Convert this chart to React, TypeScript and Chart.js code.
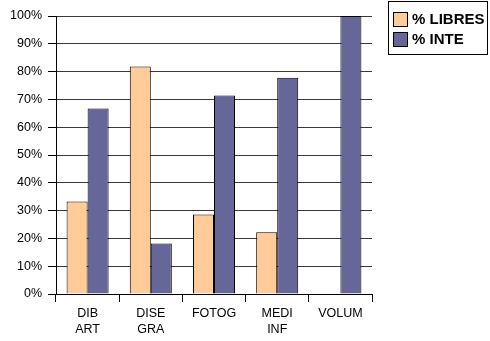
import React, { useEffect, useRef } from "react";
import { Chart, registerables } from "chart.js";

Chart.register(...registerables);

const categories: string[][] = [["DIB", "ART"], ["DISE", "GRA"], ["FOTOG"], ["MEDI", "INF"], ["VOLUM"]];
const seriesNames = ["% LIBRES", "% INTE"];
const libres = [33.3, 81.8, 28.6, 22.2, 0];
const inte = [66.7, 18.2, 71.4, 77.8, 100];
const colors = ["#FFCC99", "#666699"];

const FONT = "'Liberation Sans', Arial, Helvetica, sans-serif";

const legendPlugin = {
  id: "boxLegend",
  afterDraw(chart: any) {
    const ctx = chart.ctx;
    ctx.save();
    ctx.strokeStyle = "#000";
    ctx.lineWidth = 1;
    ctx.strokeRect(388.5, 1.5, 99, 53);
    chart.data.datasets.forEach((ds: any, i: number) => {
      const cy = 19.5 + i * 20;
      ctx.fillStyle = ds.backgroundColor;
      ctx.fillRect(393, cy - 7.5, 15, 15);
      ctx.strokeStyle = "#000";
      ctx.strokeRect(393.5, cy - 7, 14, 14);
      ctx.fillStyle = "#000";
      ctx.font = "bold 15px " + FONT;
      ctx.textBaseline = "middle";
      ctx.textAlign = "left";
      ctx.fillText(ds.label, 412, cy + 0.5);
    });
    ctx.restore();
  },
};

export default function App() {
  const ref = useRef<HTMLCanvasElement | null>(null);
  useEffect(() => {
    document.body.style.margin = "0";
    const chart = new Chart(ref.current as HTMLCanvasElement, {
      type: "bar",
      data: {
        labels: categories,
        datasets: [
          { label: seriesNames[0], data: libres, backgroundColor: colors[0], borderColor: "#000", borderWidth: 1 },
          { label: seriesNames[1], data: inte, backgroundColor: colors[1], borderColor: "#000", borderWidth: 1 },
        ],
      },
      options: {
        animation: false,
        responsive: false,
        layout: { padding: { top: 16, right: 118, left: 0, bottom: 0 } },
        datasets: { bar: { categoryPercentage: 0.665, barPercentage: 1 } },
        plugins: { legend: { display: false }, tooltip: { enabled: false } },
        scales: {
          x: {
            afterFit: (s: any) => { s.height = 47; },
            grid: {
              offset: true,
              drawOnChartArea: false,
              drawTicks: true,
              tickLength: 8,
              tickColor: (c: any) => (c.index === categories.length ? "rgba(0,0,0,0)" : "#000"),
            },
            border: { color: "#000", width: 1 },
            ticks: { color: "#000", padding: 4, font: { family: FONT, size: 12.5, lineHeight: 1.25 }, maxRotation: 0 },
          },
          y: {
            min: 0,
            max: 100,
            afterFit: (s: any) => { s.width = 56; },
            grid: { color: "#3a3a3a", tickLength: 8, tickColor: "#000" },
            border: { color: "#000", width: 1 },
            ticks: { stepSize: 10, color: "#000", padding: 6, font: { family: FONT, size: 12.5 }, callback: (v: any) => v + "%" },
          },
        },
      },
      plugins: [legendPlugin],
    });
    return () => chart.destroy();
  }, []);
  return (
    <div style={{ position: "fixed", left: 0, top: 0, width: 490, height: 341 }}>
      <canvas ref={ref} width={490} height={341} />
    </div>
  );
}
